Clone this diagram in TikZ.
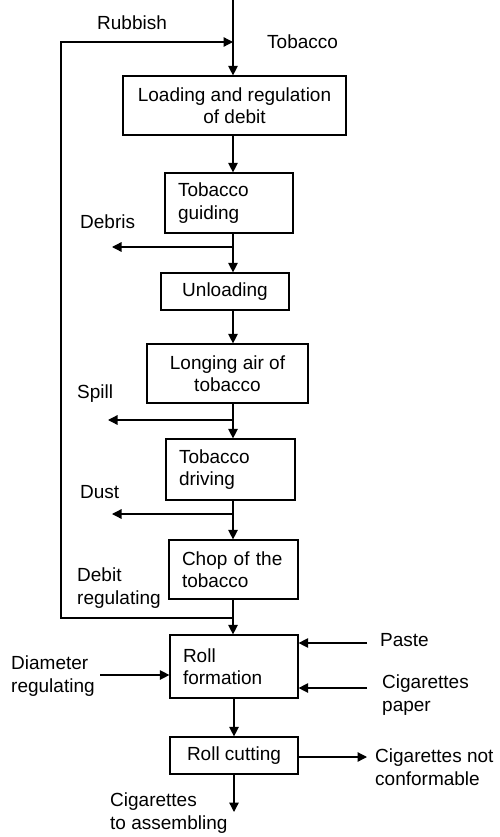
\documentclass[tikz,border=0pt]{standalone}
\usepackage{fontspec}
\setmainfont{Liberation Sans}
\usetikzlibrary{arrows.meta}

\tikzset{
  stage/.style={draw, line width=1.2pt, inner xsep=13pt, inner ysep=0pt, align=center},
  note/.style={inner sep=0pt, anchor=west, align=left},
  flow/.style={line width=1.3pt, -{Triangle[length=9.5pt,width=9.5pt]}},
  wire/.style={line width=1.3pt}
}

\begin{document}
\begin{tikzpicture}[x=1pt,y=-1pt,font=\fontsize{19}{22.5}\selectfont]
   \useasboundingbox (0,0) rectangle (499,837);

   % stages of the line
   \node[stage, minimum width=223pt, minimum height=59pt] (load) at (234.5,105.5)
        {Loading and regulation\\of debit};
   \node[stage, text width=102pt, align=left, minimum height=60pt] (guide) at (229,203)
        {Tobacco\\guiding};
   \node[stage, minimum width=128pt, minimum height=37pt] (unload) at (225,291.5)
        {Unloading};
   \node[stage, minimum width=161pt, minimum height=59pt] (air) at (227.5,373.5)
        {Longing air of\\tobacco};
   \node[stage, text width=103pt, align=left, minimum height=61pt] (drive) at (230.5,469.5)
        {Tobacco\\driving};
   \node[stage, text width=103pt, align=left, minimum height=59pt] (chop) at (233.5,569.5)
        {Chop of the\\tobacco};
   \node[stage, text width=102pt, align=left, minimum height=63pt] (roll) at (234,666.5)
        {Roll\\formation};
   \node[stage, minimum width=128pt, minimum height=37pt] (cut) at (234,755.5)
        {Roll cutting};

   % spine points
   \coordinate (top) at (233,0);
   \coordinate (merge) at (233,42);
   \coordinate (tap) at (233,618);
   \coordinate (bottom) at (234,812);

   % texts
   \node[note] (rubbish) at (97,23) {Rubbish};
   \node[note] (tobacco) at (267,42) {Tobacco};
   \node[note] (debris) at (80,222) {Debris};
   \node[note] (spill) at (77,394) {Spill};
   \node[note] (dust) at (80,492) {Dust};
   \node[note] (debitreg) at (77,588) {Debit\\regulating};
   \node[note] (paste) at (380,640) {Paste};
   \node[note] (paper) at (382,695) {Cigarettes\\paper};
   \node[note] (diameter) at (11,676) {Diameter\\regulating};
   \node[note] (reject) at (375,767) {Cigarettes not\\conformable};
   \node[note] (assembly) at (110,813) {Cigarettes\\to assembling};

   % main flow
   \draw[flow] (top) -- (load.north -| top);
   \draw[flow] (load.south -| top) -- (guide.north -| top);
   \draw[flow] (guide.south -| top) -- (unload.north -| top);
   \draw[flow] (unload.south -| top) -- (air.north -| top);
   \draw[flow] (air.south -| top) -- (drive.north -| top);
   \draw[flow] (drive.south -| top) -- (chop.north -| top);
   \draw[flow] (chop.south -| tap) -- (roll.north -| tap);
   \draw[flow] (roll.south -| bottom) -- (cut.north -| bottom);
   \draw[flow] (cut.south -| bottom) -- (bottom);

   % rubbish return
   \draw[flow] (tap) -| (61,42) -- (merge);

   % waste outputs
   \coordinate (debrisOut) at (112,247);
   \coordinate (spillOut) at (108,420);
   \coordinate (dustOut) at (112,514);
   \draw[flow] (debrisOut -| top) -- (debrisOut);
   \draw[flow] (spillOut -| top) -- (spillOut);
   \draw[flow] (dustOut -| top) -- (dustOut);

   % inputs and outputs of the roll
   \coordinate (pasteIn) at (367,643);
   \coordinate (paperIn) at (367,688);
   \coordinate (diameterIn) at (100,675);
   \coordinate (rejectOut) at (367,757);
   \draw[flow] (pasteIn) -- (roll.east |- pasteIn);
   \draw[flow] (paperIn) -- (roll.east |- paperIn);
   \draw[flow] (diameterIn) -- (roll.west |- diameterIn);
   \draw[flow] (cut.east |- rejectOut) -- (rejectOut);
\end{tikzpicture}
\end{document}
